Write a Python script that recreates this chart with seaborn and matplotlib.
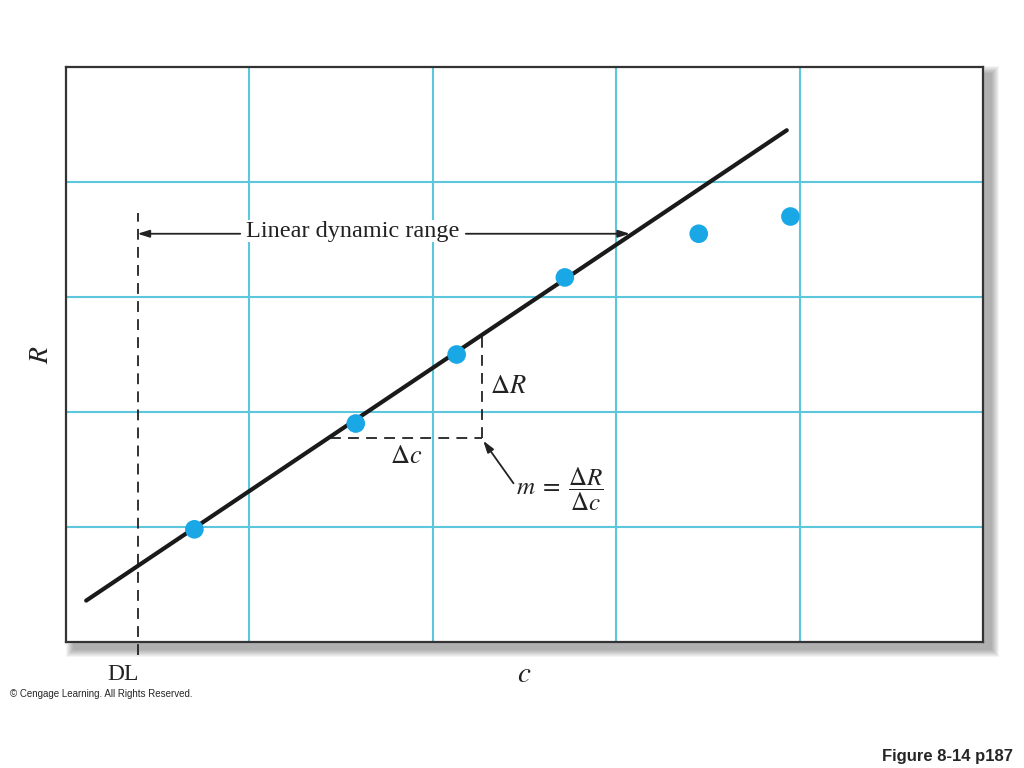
import numpy as np
import pandas as pd
import matplotlib
matplotlib.use("Agg")
import matplotlib.pyplot as plt
from matplotlib.patches import Rectangle
import seaborn as sns

# Data (grid units: 5 x 5 cells)
conc = [0.70, 1.58, 2.13, 2.72, 3.45, 3.95]
resp = [0.98, 1.90, 2.50, 3.17, 3.55, 3.70]
line_c = [0.11, 3.93]
line_R = [0.36, 4.45]
dl_c = 0.39
ldr_end = 3.075
ldr_y = 3.55
tri_c = [1.44, 2.27]
tri_R = [1.77, 2.68]

grid_color = "#5cc6dc"
point_color = "#1aa7e6"

sns.set_style("white")
plt.rcParams["mathtext.fontset"] = "stix"
plt.rcParams["font.family"] = ["Liberation Serif", "DejaVu Serif"]

fig = plt.figure(figsize=(10.24, 7.68), dpi=100)
W, H = 1024, 768
x0, x1, y0, y1 = 66, 983, 67, 642
ax = fig.add_axes([x0 / W, 1 - y1 / H, (x1 - x0) / W, (y1 - y0) / H])

# Soft drop shadow behind the plot box
for k in range(8):
    grow = 8 - k
    fig.patches.append(Rectangle(((x0 + 8 - grow) / W, (H - y1 - 7 - grow) / H),
                                 (x1 - x0 + 2 * grow) / W, (y1 - y0 + 2 * grow) / H,
                                 transform=fig.transFigure, facecolor="black",
                                 edgecolor="none", alpha=0.045, zorder=0))

ax.set_xlim(0, 5)
ax.set_ylim(0, 5)
ax.set_xticks([1, 2, 3, 4])
ax.set_yticks([1, 2, 3, 4])
ax.grid(True, color=grid_color, lw=1.5)
ax.tick_params(length=0, labelbottom=False, labelleft=False)
for s in ax.spines.values():
    s.set_color("#333333")
    s.set_linewidth(1.6)
ax.set_zorder(2)

df = pd.DataFrame({"c": conc, "R": resp})
line_df = pd.DataFrame({"c": line_c, "R": line_R})
sns.lineplot(data=line_df, x="c", y="R", color="#1a1a1a", lw=3, ax=ax, zorder=3)
sns.scatterplot(data=df, x="c", y="R", color=point_color, s=180, edgecolor="none",
                ax=ax, zorder=4)
ax.set_xlabel("")
ax.set_ylabel("")

dash = dict(color="#222222", lw=1.3, ls=(0, (6, 4)))
# detection limit
ax.plot([dl_c, dl_c], [-0.115, 3.73], clip_on=False, **dash)
# slope triangle
ax.plot([tri_c[0], tri_c[1]], [tri_R[0], tri_R[0]], **dash)
ax.plot([tri_c[1], tri_c[1]], [tri_R[0], tri_R[1]], **dash)

# linear dynamic range arrows
arr = dict(arrowstyle="-|>,head_length=0.7,head_width=0.22", color="#222222", lw=1.3,
           shrinkA=0, shrinkB=0)
ax.annotate("", xy=(dl_c, ldr_y), xytext=(0.95, ldr_y), arrowprops=arr)
ax.annotate("", xy=(ldr_end, ldr_y), xytext=(2.18, ldr_y), arrowprops=arr)
ax.text(1.565, ldr_y + 0.02, "Linear dynamic range", ha="center", va="center",
        fontsize=17.5, color="#222222",
        bbox=dict(facecolor="white", edgecolor="none", pad=0.3), zorder=5)

ax.text(2.31, 2.22, r"$\Delta R$", ha="left", va="center", fontsize=19, color="#222222")
ax.text(1.855, 1.61, r"$\Delta c$", ha="center", va="center", fontsize=19, color="#222222")
ax.text(2.455, 1.33, r"$m\;=\;\dfrac{\Delta R}{\Delta c}$", ha="left", va="center",
        fontsize=18, color="#222222")
ax.annotate("", xy=(2.275, 1.75), xytext=(2.44, 1.38), arrowprops=arr)

fig.text(42 / W, 1 - 355 / H, r"$R$", rotation=90, ha="center", va="center",
         fontsize=20, color="#222222")
fig.text(524 / W, 1 - 675 / H, r"$c$", ha="center", va="center", fontsize=21,
         color="#222222")
fig.text(123 / W, 1 - 674 / H, "DL", ha="center", va="center", fontsize=17,
         color="#222222")
fig.text(10 / W, 1 - 694 / H, "© Cengage Learning. All Rights Reserved.", ha="left",
         va="center", fontsize=7, family=["Liberation Sans", "DejaVu Sans"])
fig.text(1013 / W, 1 - 757 / H, "Figure 8-14 p187", ha="right", va="center",
         fontsize=12, fontweight="bold", family=["Liberation Sans", "DejaVu Sans"])

fig.savefig("out.png", dpi=100, facecolor="white")
